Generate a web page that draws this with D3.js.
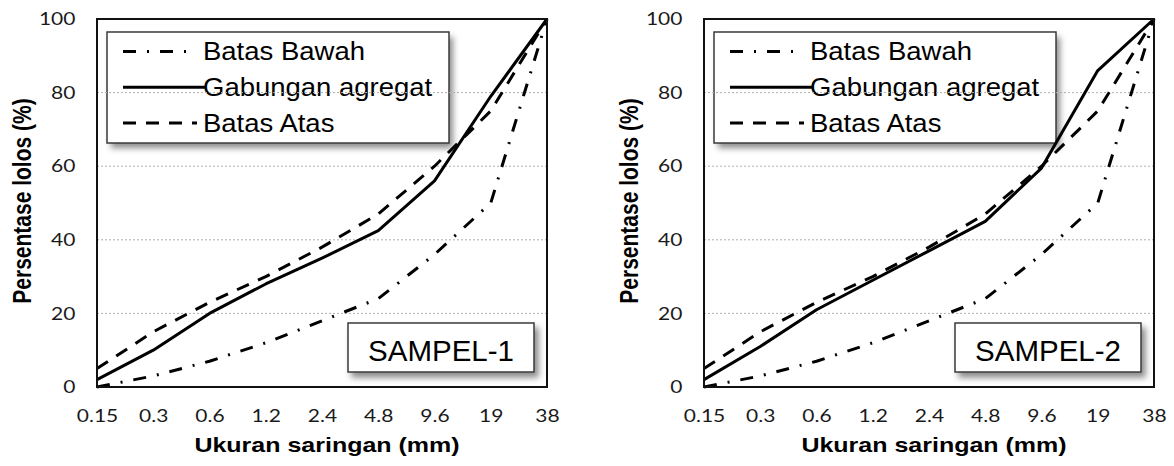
<!DOCTYPE html>
<html lang="en">
<head>
    <meta charset="UTF-8">
    <title>Gradasi agregat</title>
    <script src="https://cdn.jsdelivr.net/npm/d3@7"></script>
    <style>
        body { margin: 0; background: #fff; }
        svg { display: block; }
    </style>
</head>
<body>
    <div id="chart-space"></div>

<script>
    // data
    var sieveSizes = ["0.15", "0.3", "0.6", "1.2", "2.4", "4.8", "9.6", "19", "38"];
    var batasBawah = [0, 3, 7, 12, 18, 24, 36, 50, 100];
    var batasAtas = [5, 15, 23, 30, 38, 47, 60, 75, 100];
    var gabungan1 = [2, 10, 20, 28, 35, 42.5, 56, 79, 100];
    var gabungan2 = [2, 11, 21, 29, 37, 45, 59.5, 86, 100];
    var yTicks = [0, 20, 40, 60, 80, 100];
    var gridTicks = [20, 40, 60, 80];
    var sampleNames = ["SAMPEL-1", "SAMPEL-2"];
    var legendNames = ["Batas Bawah", "Gabungan agregat", "Batas Atas"];

    var width = 1174;
    var height = 466;

    var panelLeft = [97, 704];
    var plotTop = 19;
    var plotWidth = 450;
    var plotHeight = 368;

    var styles = [
        { dash: "13,11,2,11", sampleEnd: 90 },
        { dash: null, sampleEnd: 98 },
        { dash: "13,10", sampleEnd: 90 }
    ];

    var svg = d3.select("#chart-space")
        .append("svg")
        .attr("width", width)
        .attr("height", height);

    var defs = svg.append("defs");
    var shadow = defs.append("filter")
        .attr("id", "shadow")
        .attr("x", "-10%").attr("y", "-10%")
        .attr("width", "130%").attr("height", "140%");
    shadow.append("feDropShadow")
        .attr("dx", 4).attr("dy", 5)
        .attr("stdDeviation", 3)
        .attr("flood-color", "#000")
        .attr("flood-opacity", 0.45);

    var xScale = d3.scalePoint()
        .domain(sieveSizes)
        .range([0, plotWidth]);

    var yScale = d3.scaleLinear()
        .domain([0, 100])
        .range([plotHeight, 0]);

    var line = d3.line()
        .x(function(d, i) { return xScale(sieveSizes[i]); })
        .y(function(d) { return yScale(d); });

    function drawPanel(p) {
        var series = [batasBawah, p == 0 ? gabungan1 : gabungan2, batasAtas];

        var g = svg.append("g")
            .attr("transform", "translate(" + panelLeft[p] + "," + plotTop + ")");

        // legend background first so the gridlines show on top of it
        var legend = g.append("g").attr("transform", "translate(10,13)");
        legend.append("rect")
            .attr("width", 342).attr("height", 111)
            .attr("fill", "#fff")
            .attr("filter", "url(#shadow)");

        // gridlines
        g.selectAll(".grid")
            .data(gridTicks)
            .join("line")
            .attr("x1", 0).attr("x2", plotWidth)
            .attr("y1", function(d) { return yScale(d); })
            .attr("y2", function(d) { return yScale(d); })
            .attr("stroke", "#b0b0b0")
            .attr("stroke-width", 1)
            .attr("stroke-dasharray", "2,2");

        legend.append("rect")
            .attr("width", 342).attr("height", 111)
            .attr("fill", "none")
            .attr("stroke", "#3a3a3a")
            .attr("stroke-width", 1.5);

        var rows = legend.selectAll(".row")
            .data(legendNames)
            .join("g")
            .attr("transform", function(d, i) { return "translate(0," + (19.5 + i * 35.8) + ")"; });
        rows.append("line")
            .attr("x1", 16)
            .attr("x2", function(d, i) { return styles[i].sampleEnd; })
            .attr("stroke", "#000")
            .attr("stroke-width", 3)
            .attr("stroke-dasharray", function(d, i) { return styles[i].dash; });
        rows.append("text")
            .attr("transform", "translate(96,8.5) scale(1.1,1)")
            .attr("font-family", "Liberation Sans, Arial, sans-serif")
            .attr("font-size", 25)
            .attr("fill", "#000")
            .text(function(d) { return d; });

        // axes
        var yAxis = g.append("g")
            .call(d3.axisLeft(yScale).tickValues(yTicks).tickSize(0).tickPadding(18));
        var xAxis = g.append("g")
            .attr("transform", "translate(0," + plotHeight + ")")
            .call(d3.axisBottom(xScale).tickSize(0).tickPadding(22.5));
        yAxis.select(".domain").remove();
        xAxis.select(".domain").remove();
        g.selectAll(".tick text")
            .attr("transform", "scale(1.2,1)")
            .attr("font-family", "Lato, sans-serif")
            .attr("font-size", 17.5)
            .attr("fill", "#1a1a1a");

        // data lines
        g.selectAll(".series")
            .data(series)
            .join("path")
            .attr("d", line)
            .attr("fill", "none")
            .attr("stroke", "#000")
            .attr("stroke-width", 3)
            .attr("stroke-linejoin", "round")
            .attr("stroke-dasharray", function(d, i) { return styles[i].dash; });

        // plot frame
        g.append("rect")
            .attr("width", plotWidth).attr("height", plotHeight)
            .attr("fill", "none")
            .attr("stroke", "#111")
            .attr("stroke-width", 2);

        // sample label box
        var box = g.append("g").attr("transform", "translate(251,304)");
        box.append("rect")
            .attr("width", 186).attr("height", 49)
            .attr("fill", "#fff")
            .attr("stroke", "#3a3a3a")
            .attr("stroke-width", 1.5)
            .attr("filter", "url(#shadow)");
        box.append("text")
            .attr("x", 93).attr("y", 38)
            .attr("text-anchor", "middle")
            .attr("font-family", "Liberation Sans, Arial, sans-serif")
            .attr("font-size", 29.5)
            .attr("fill", "#000")
            .text(sampleNames[p]);

        // axis titles
        g.append("text")
            .attr("transform", "translate(" + (plotWidth / 2 + 5) + "," + (plotHeight + 65) + ") scale(1.19,1)")
            .attr("text-anchor", "middle")
            .attr("font-family", "Liberation Sans, Arial, sans-serif")
            .attr("font-weight", "bold")
            .attr("font-size", 21)
            .attr("fill", "#000")
            .text("Ukuran saringan (mm)");
        g.append("text")
            .attr("transform", "translate(-73," + (plotHeight / 2 - 2) + ") rotate(-90) scale(1.0,1.19)")
            .attr("text-anchor", "middle")
            .attr("dominant-baseline", "middle")
            .attr("font-family", "Liberation Sans, Arial, sans-serif")
            .attr("font-weight", "bold")
            .attr("font-size", 21)
            .attr("fill", "#000")
            .text("Persentase lolos (%)");
    }

    drawPanel(0);
    drawPanel(1);
</script>
</body>
</html>
